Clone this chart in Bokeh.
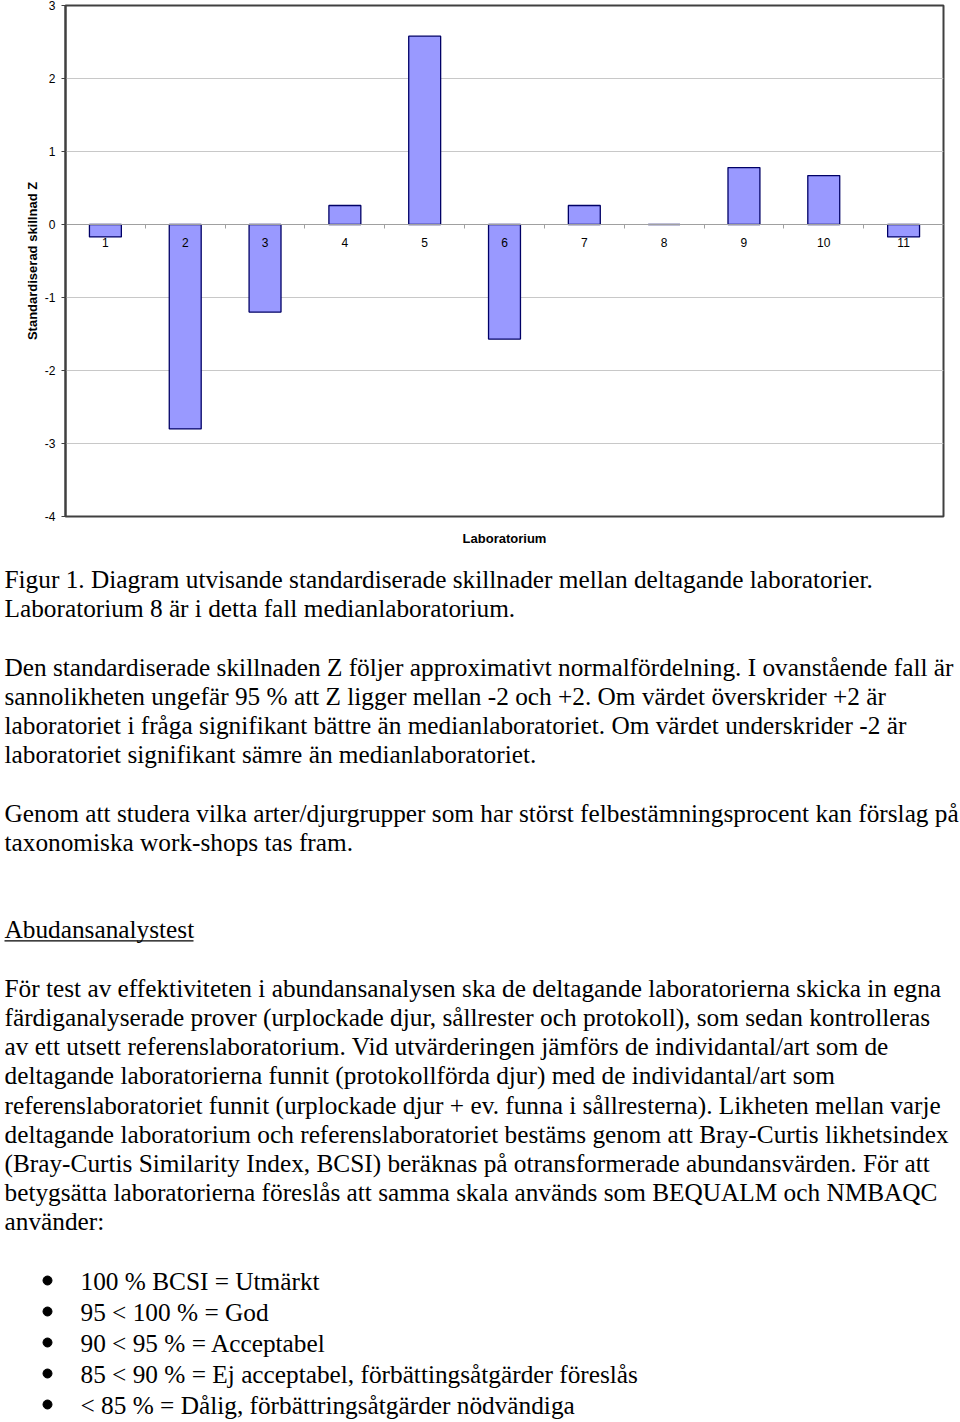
from bokeh.plotting import figure
from bokeh.models import Range1d, FixedTicker, LinearAxis
from bokeh.layouts import column
from bokeh.embed import file_html
from bokeh.resources import INLINE
from bokeh.core.properties import value

# ---- data ----
laboratorier = [1, 2, 3, 4, 5, 6, 7, 8, 9, 10, 11]
z_values = [-0.17, -2.80, -1.20, 0.26, 2.58, -1.57, 0.26, 0.0, 0.78, 0.67, -0.17]
y_ticks = [-4, -3, -2, -1, 0, 1, 2, 3]
y_tick_labels = ["-4", "-3", "-2", "-1", "0", "1", "2", "3"]

body_lines = [
    "Figur 1. Diagram utvisande standardiserade skillnader mellan deltagande laboratorier.",
    "Laboratorium 8 är i detta fall medianlaboratorium.",
    "",
    "Den standardiserade skillnaden Z följer approximativt normalfördelning. I ovanstående fall är",
    "sannolikheten ungefär 95 % att Z ligger mellan -2 och +2. Om värdet överskrider +2 är",
    "laboratoriet i fråga signifikant bättre än medianlaboratoriet. Om värdet underskrider -2 är",
    "laboratoriet signifikant sämre än medianlaboratoriet.",
    "",
    "Genom att studera vilka arter/djurgrupper som har störst felbestämningsprocent kan förslag på",
    "taxonomiska work-shops tas fram.",
    "",
    "",
    "Abudansanalystest",
    "",
    "För test av effektiviteten i abundansanalysen ska de deltagande laboratorierna skicka in egna",
    "färdiganalyserade prover (urplockade djur, sållrester och protokoll), som sedan kontrolleras",
    "av ett utsett referenslaboratorium. Vid utvärderingen jämförs de individantal/art som de",
    "deltagande laboratorierna funnit (protokollförda djur) med de individantal/art som",
    "referenslaboratoriet funnit (urplockade djur + ev. funna i sållresterna). Likheten mellan varje",
    "deltagande laboratorium och referenslaboratoriet bestäms genom att Bray-Curtis likhetsindex",
    "(Bray-Curtis Similarity Index, BCSI) beräknas på otransformerade abundansvärden. För att",
    "betygsätta laboratorierna föreslås att samma skala används som BEQUALM och NMBAQC",
    "använder:",
]
heading_line = "Abudansanalystest"

bullet_lines = [
    "100 % BCSI = Utmärkt",
    "95 < 100 % = God",
    "90 < 95 % = Acceptabel",
    "85 < 90 % = Ej acceptabel, förbättingsåtgärder föreslås",
    "< 85 % = Dålig, förbättringsåtgärder nödvändiga",
]

# ---- chart ----
CHART_H = 555
p = figure(width=960, height=CHART_H, x_range=Range1d(0.5, 11.5), y_range=Range1d(-4, 3),
           output_backend="svg", toolbar_location=None,
           min_border_left=65, min_border_right=17, min_border_top=5, min_border_bottom=39)
p.frame_align = False
p.background_fill_color = "white"
p.border_fill_color = "white"
p.outline_line_color = "#404040"
p.outline_line_width = 2

p.vbar(x=laboratorier, top=z_values, bottom=0, width=0.4,
       fill_color="#9999FF", line_color="#000066", line_width=1.3)

p.xgrid.visible = False
p.ygrid.ticker = FixedTicker(ticks=y_ticks)
p.ygrid.grid_line_color = "#c8c8c8"
p.ygrid.grid_line_width = 1

# y axis
ya = p.yaxis[0]
ya.ticker = FixedTicker(ticks=y_ticks)
ya.major_label_overrides = dict(zip(y_ticks, y_tick_labels))
ya.axis_line_color = "#404040"
ya.axis_line_width = 2
ya.major_tick_out = 4
ya.major_tick_in = 0
ya.major_tick_line_color = "#404040"
ya.minor_tick_line_color = None
ya.major_label_text_font = "Liberation Sans"
ya.major_label_text_font_size = "12px"
ya.major_label_text_color = "black"
ya.major_label_standoff = 6
ya.axis_label = "Standardiserad skillnad Z"
ya.axis_label_text_font = "Liberation Sans"
ya.axis_label_text_font_size = "13px"
ya.axis_label_text_font_style = "bold"
ya.axis_label_text_color = "black"
ya.axis_label_standoff = 2

# x axis at zero
xa = p.xaxis[0]
xa.fixed_location = 0
xa.ticker = FixedTicker(ticks=laboratorier, minor_ticks=[i + 0.5 for i in laboratorier[:-1]])
xa.axis_line_color = "#a0a0a0"
xa.axis_line_width = 1
xa.major_tick_out = 0
xa.major_tick_in = 0
xa.minor_tick_out = 4
xa.minor_tick_in = 0
xa.minor_tick_line_color = "#a0a0a0"
xa.major_label_text_font = "Liberation Sans"
xa.major_label_text_font_size = "12px"
xa.major_label_text_color = "black"
xa.major_label_standoff = 9

# axis title below
xt = LinearAxis(ticker=FixedTicker(ticks=[]), axis_line_color=None,
                major_tick_line_color=None, minor_tick_line_color=None,
                major_label_text_font_size="0px",
                axis_label="Laboratorium", axis_label_text_font="Liberation Sans",
                axis_label_text_font_size="13px", axis_label_text_font_style="bold",
                axis_label_text_color="black", axis_label_standoff=14)
p.add_layout(xt, "below")

# ---- text ----
TEXT_H = 1422 - CHART_H
t = figure(width=960, height=TEXT_H, x_range=Range1d(0, 960), y_range=Range1d(TEXT_H, 0),
           output_backend="svg", toolbar_location=None, min_border=0,
           min_border_left=0, min_border_right=0, min_border_top=0, min_border_bottom=0)
t.frame_align = False
t.axis.visible = False
t.grid.visible = False
t.outline_line_color = None
t.background_fill_color = "white"
t.border_fill_color = "white"

FS = "25.3px"
top0 = 23.5
pitch = 29.2
xs, ys, txt = [], [], []
under_y = None
for i, line in enumerate(body_lines):
    if not line:
        continue
    xs.append(4)
    ys.append(top0 + i * pitch)
    txt.append(line)
    if line == heading_line:
        under_y = top0 + i * pitch + 11.5
t.text(x=xs, y=ys, text=txt, text_font=value("Liberation Serif"), text_font_size=FS,
       text_baseline="middle", text_align="left", text_color="black")
if under_y is not None:
    t.segment(x0=[4], y0=[under_y], x1=[193], y1=[under_y], line_color="black", line_width=1.2)

b0 = 725
bpitch = 31
by = [b0 + i * bpitch for i in range(len(bullet_lines))]
t.scatter(x=[47] * len(bullet_lines), y=by, size=9, marker="circle", color="black")
t.text(x=[80] * len(bullet_lines), y=by, text=bullet_lines, text_font=value("Liberation Serif"),
       text_font_size=FS, text_baseline="middle", text_align="left", text_color="black")

layout = column(p, t, spacing=0)
open("out.html", "w").write(file_html(layout, INLINE))
